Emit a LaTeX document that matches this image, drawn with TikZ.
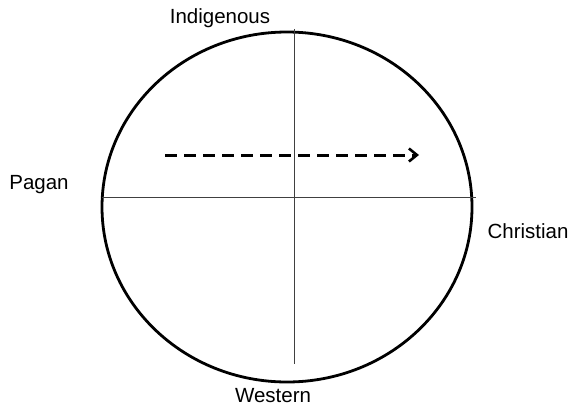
\documentclass[tikz,border=0pt]{standalone}
\usepackage{fontspec}
\setmainfont{Liberation Sans}
\usetikzlibrary{arrows.meta}
\begin{document}
\begin{tikzpicture}[x=1pt,y=-1pt,
  lbl/.style={font=\fontsize{20.5}{24}\selectfont, inner sep=0pt},
  axis/.style={draw=black!75, line width=1pt},
  rim/.style={draw=black, line width=2.8pt},
  move/.style={draw=black, line width=3pt, dash pattern=on 12pt off 7pt, -{Straight Barb[length=8pt,width=13pt,line width=2.6pt]}}]
\useasboundingbox (0,0) rectangle (569,409);
\draw[rim] (287,207) ellipse [x radius=185, y radius=175];
\coordinate (vtop) at (294,29);
\coordinate (vbot) at (294,364);
\coordinate (hl) at (102,197);
\coordinate (hr) at (476,197);
\draw[axis] (vtop) -- (vbot);
\draw[axis] (hl) -- (hr);
\coordinate (as) at (165,155);
\coordinate (ae) at (419,155);
\draw[move] (as) -- (ae);
\node[lbl] (ind) at (220,18) {Indigenous};
\node[lbl] (wes) at (273,396) {Western};
\node[lbl] (pag) at (39,185) {Pagan};
\node[lbl] (chr) at (528,231) {Christian};
\end{tikzpicture}
\end{document}
